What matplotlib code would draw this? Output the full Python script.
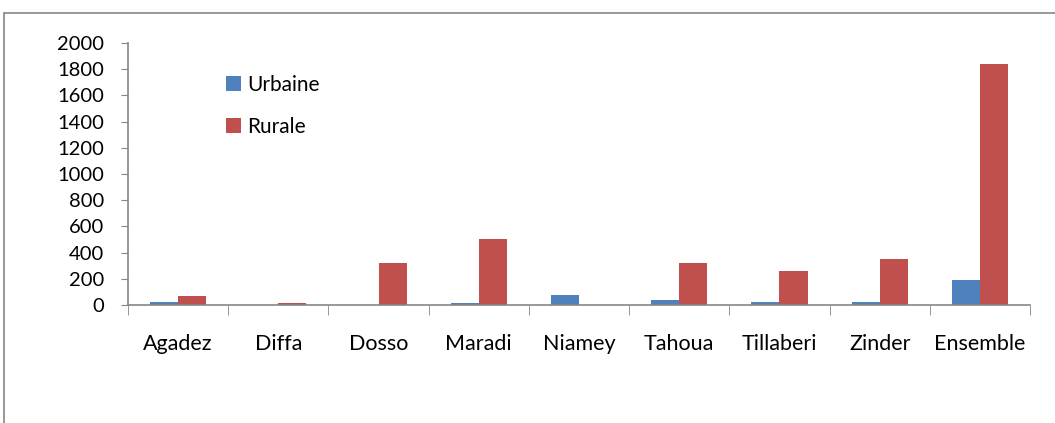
import numpy as np
import matplotlib
matplotlib.use("Agg")
from matplotlib import pyplot as plt
from matplotlib.patches import Rectangle

regions = ["Agadez", "Diffa", "Dosso", "Maradi", "Niamey", "Tahoua", "Tillaberi", "Zinder", "Ensemble"]
urbaine = [25, 0, 0, 15, 80, 35, 25, 25, 188]
rurale = [65, 15, 318, 505, 0, 320, 257, 350, 1840]
yticks = [0, 200, 400, 600, 800, 1000, 1200, 1400, 1600, 1800, 2000]

blue = "#4F81BD"
red = "#C0504D"
grey = "#868686"

plt.rcParams["font.family"] = ["Lato", "DejaVu Sans"]

fig = plt.figure(figsize=(10.55, 4.23), dpi=100)
# outer chart frame (runs off the right and bottom edges)
fig.patches.append(Rectangle((4 / 1055, -0.1), 1.2, 1 - 13 / 423 + 0.1,
                             transform=fig.transFigure, fill=False,
                             edgecolor=grey, linewidth=1.2))

ax = fig.add_axes([128 / 1055, 1 - 305 / 423, 902 / 1055, 262 / 423])
x = np.arange(len(regions))
w = 0.28
ax.bar(x - w / 2, urbaine, w, color=blue, label="Urbaine")
ax.bar(x + w / 2, rurale, w, color=red, label="Rurale")

ax.set_xlim(-0.5, len(regions) - 0.5)
ax.set_ylim(0, 2000)
ax.set_yticks(yticks)
ax.set_xticks(x)
ax.set_xticklabels(regions)
ax.set_xticks(np.arange(len(regions) + 1) - 0.5, minor=True)
ax.tick_params(axis="x", which="major", length=0, pad=21, labelsize=15.5)
ax.tick_params(axis="x", which="minor", length=7, color=grey)
ax.tick_params(axis="y", length=5, color=grey, pad=12, labelsize=14.5)

for s in ["top", "right"]:
    ax.spines[s].set_visible(False)
for s in ["left", "bottom"]:
    ax.spines[s].set_color(grey)
    ax.spines[s].set_linewidth(1.2)

ax.legend(loc="upper left", bbox_to_anchor=(0.088, 0.95), frameon=False,
          fontsize=15, handlelength=0.7, handleheight=0.7,
          handletextpad=0.3, labelspacing=1.05)

fig.savefig("out.png", dpi=100)
